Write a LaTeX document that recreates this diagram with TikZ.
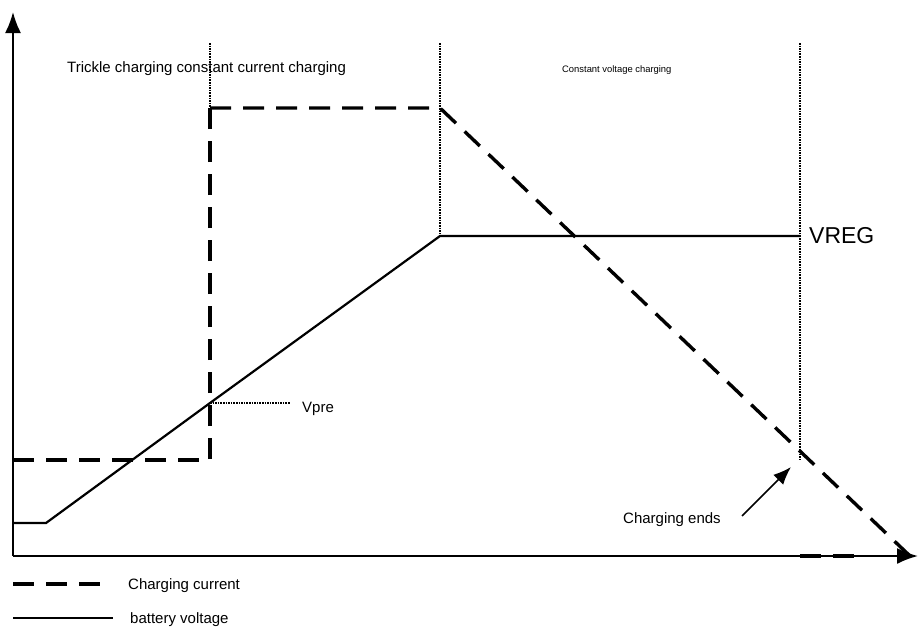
\documentclass[tikz,border=0pt]{standalone}
\usepackage{fontspec}
\setmainfont{Liberation Sans}
\usetikzlibrary{arrows.meta}

\begin{document}
\begin{tikzpicture}[x=1pt, y=-1pt, >={Latex[length=21pt,width=16pt]},
axis/.style={line width=2pt, ->},
current/.style={line width=3.4pt, dash pattern=on 21pt off 12pt},
voltage/.style={line width=2.2pt},
phase/.style={line width=2.2pt, dash pattern=on 1.6pt off 1pt},
lbl/.style={inner sep=0pt, anchor=base west, font=\fontsize{15pt}{18pt}\selectfont}]
\useasboundingbox (0,0) rectangle (918,627);
\coordinate (origin) at (13,556);
\coordinate (ytop) at (13,12);
\coordinate (xend) at (918,556);
\coordinate (p1top) at (210,43);
\coordinate (p2top) at (440,43);
\coordinate (p3top) at (800,43);
\coordinate (ilow0) at (13,460);
\coordinate (ilow1) at (210,460);
\coordinate (ihigh0) at (210,108);
\coordinate (ihigh1) at (440,108);
\coordinate (iend) at (910,556);
\coordinate (itail0) at (800,556);
\coordinate (itail1) at (855,556);
\coordinate (v0) at (13,523);
\coordinate (v1) at (46,523);
\coordinate (vpre) at (210,403);
\coordinate (vpreend) at (290,403);
\coordinate (vreg0) at (440,236);
\coordinate (vreg1) at (800,236);
\coordinate (p3end) at (800,460);
\node[lbl] (trickle) at (67,72) {Trickle charging constant current charging};
\node[lbl, font=\fontsize{9.4pt}{11pt}\selectfont] (cv) at (562,72) {Constant voltage charging};
\node[lbl] (vprelbl) at (302,412) {Vpre};
\node[lbl, font=\fontsize{23pt}{27pt}\selectfont] (vreglbl) at (809,243) {VREG};
\node[lbl] (ends) at (623,523) {Charging ends};
\node[lbl] (legi) at (128,589) {Charging current};
\node[lbl] (legv) at (130,623) {battery voltage};
\coordinate (legi0) at (13,584);
\coordinate (legi1) at (102,584);
\coordinate (legv0) at (13,618);
\coordinate (legv1) at (113,618);
\coordinate (endstail) at (742,516);
\coordinate (endstip) at (791,467);
\draw[phase] (p1top) -- (ihigh0);
\draw[phase] (p2top) -- (vreg0);
\draw[phase] (p3top) -- (p3end);
\draw[phase] (vpre) -- (vpreend);
\draw[axis] (origin) -- (ytop);
\draw[axis] (origin) -- (xend);
\draw[current] (ilow0) -- (ilow1) -- (ihigh0);
\draw[current] (ihigh0) -- (ihigh1) -- (iend);
\draw[current] (itail0) -- (itail1);
\draw[voltage] (v0) -- (v1) -- (vpre) -- (vreg0) -- (vreg1);
\draw[line width=1.5pt, -{Latex[length=18pt,width=14pt]}] (endstail) -- (endstip);
\draw[current] (legi0) -- (legi1);
\draw[voltage] (legv0) -- (legv1);
\end{tikzpicture}
\end{document}
